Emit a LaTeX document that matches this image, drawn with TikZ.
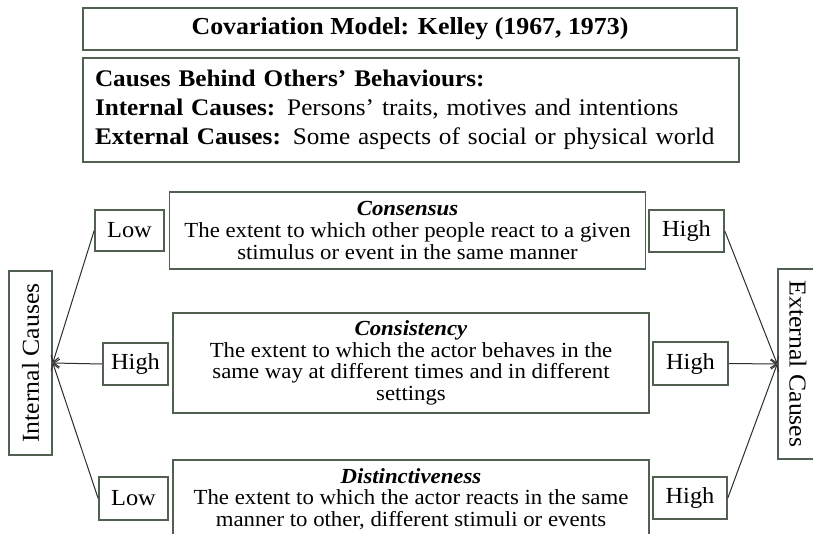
\documentclass[tikz,border=0pt]{standalone}
\usepackage{fontspec}
\setmainfont{Liberation Serif}[FakeStretch=1.06]
\usetikzlibrary{arrows.meta}
\definecolor{boxline}{RGB}{82,96,82}
\definecolor{linkline}{RGB}{45,45,45}
\tikzset{
  frame/.style={draw=boxline, line width=1.6pt, inner sep=0pt, align=center},
  levelbox/.style={frame, font=\fontsize{23}{25}\selectfont},
  dimbox/.style={frame, minimum width=476, font=\fontsize{21.5}{21.6}\selectfont},
  sidebox/.style={frame, minimum height=42, font=\fontsize{24.3}{26}\selectfont},
  link/.style={draw=linkline, line width=1pt, -{Straight Barb[length=6pt,width=8pt]}},
}
\begin{document}
\begin{tikzpicture}[x=1pt,y=-1pt]
\useasboundingbox (0,0) rectangle (813,533);
\fill[white] (0,0) rectangle (813,533);

% header boxes
\node[frame, minimum width=654, minimum height=42,
      font=\fontsize{24.4}{26}\selectfont\bfseries] (title) at (410,29)
  {Covariation Model: Kelley (1967, 1973)};
\node[frame, minimum width=656, minimum height=104, align=left, text width=632,
      font=\fontsize{23.8}{29}\selectfont] (causes) at (411,110)
  {\textbf{Causes Behind Others’ Behaviours:}\\
   \textbf{Internal Causes:} Persons’ traits, motives and intentions\\
   \textbf{External Causes:} Some aspects of social or physical world};

% the three dimensions
\node[dimbox, minimum height=77] (consensus) at (407.5,230.5)
  {\textbf{\textit{Consensus}}\\
   The extent to which other people react to a given\\
   stimulus or event in the same manner};
\node[dimbox, minimum height=100] (consistency) at (411,363)
  {\textbf{\textit{Consistency}}\\
   The extent to which the actor behaves in the\\
   same way at different times and in different\\
   settings};
\node[dimbox, minimum height=78] (distinct) at (411,499)
  {\textbf{\textit{Distinctiveness}}\\
   The extent to which the actor reacts in the same\\
   manner to other, different stimuli or events};

% levels leading to internal causes
\node[levelbox, minimum width=69, minimum height=41] (lowA) at (129.5,230.5) {Low};
\node[levelbox, minimum width=65, minimum height=42] (highB) at (135.5,364) {High};
\node[levelbox, minimum width=69, minimum height=43] (lowC) at (133.5,498.5) {Low};

% levels leading to external causes
\node[levelbox, minimum width=75, minimum height=42] (highA) at (686.5,231) {High};
\node[levelbox, minimum width=75, minimum height=43] (highR) at (690.5,363.5) {High};
\node[levelbox, minimum width=74, minimum height=42] (highC) at (690,498) {High};

% attribution outcomes
\node[sidebox, rotate=90, minimum width=184, minimum height=43] (internal) at (30.5,363) {Internal Causes};
\node[sidebox, rotate=-90, minimum width=190, minimum height=40] (external) at (798,364) {External Causes};

% connectors
\draw[link] (lowA.west) -- (internal.south);
\draw[link] (highB.west) -- (internal.south);
\draw[link] (lowC.west) -- (internal.south);
\draw[link] (highA.east) -- (external.south);
\draw[link] (highR.east) -- (external.south);
\draw[link] (highC.east) -- (external.south);
\end{tikzpicture}
\end{document}
